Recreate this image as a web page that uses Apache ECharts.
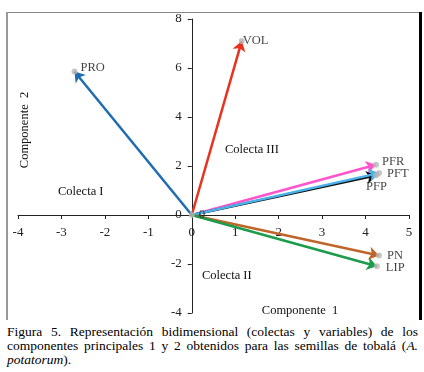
<!DOCTYPE html>
<html>
<head>
<meta charset="utf-8">
<script src="https://cdn.jsdelivr.net/npm/echarts@6/dist/echarts.min.js"></script>
<style>
  html, body { margin: 0; padding: 0; background: #fff; }
  #chart { width: 424px; height: 320px; }
  #caption {
    width: 411px; margin-left: 7px; margin-top: 5px;
    font-family: 'Liberation Serif', 'DejaVu Serif', serif;
    font-size: 13.5px; line-height: 14px; color: #000;
    text-align: justify;
  }
</style>
</head>
<body>
<div id="chart"></div>
<div id="caption">Figura 5. Representación bidimensional (colectas y variables) de los componentes principales 1 y 2 obtenidos para las semillas de tobalá (<i>A. potatorum</i>).</div>
<script>
// variables (loadings on components 1 and 2)
const varNames = ['PRO', 'VOL', 'PFR', 'PFP', 'PFT', 'PN', 'LIP']
const comp1 = [-2.70, 1.15, 4.24, 4.25, 4.31, 4.31, 4.26]
const comp2 = [5.86, 7.10, 2.05, 1.62, 1.71, -1.65, -2.09]
const varColors = ['#1f6db0', '#e8321e', '#ff55cc', '#111111', '#4ab2ea', '#c0652a', '#1a9c4a']

// label placement per variable
const labelPos = {
    PRO: { position: 'right', offset: [0, -4] },
    VOL: { position: 'right', offset: [-5, 0] },
    PFR: { position: 'right', offset: [0, -3] },
    PFP: { position: 'bottom', offset: [0, -1] },
    PFT: { position: 'right', offset: [2, 1] },
    PN: { position: 'right', offset: [2, 0] },
    LIP: { position: 'right', offset: [3, 2] },
}

const xTicks = { min: -4, max: 5, interval: 1 }
const yTicks = { min: -4, max: 8, interval: 2 }

const serif = "'Liberation Serif', 'DejaVu Serif', serif"

const gridBox = { left: 18, right: 15, top: 19, bottom: 7 }
const chartW = 424, chartH = 320

// move axes to cross at zero (labels follow the axis)
const plotW = chartW - gridBox.left - gridBox.right
const plotH = chartH - gridBox.top - gridBox.bottom
const yAxisShift = -plotW * (0 - xTicks.min) / (xTicks.max - xTicks.min)
const xAxisShift = -plotH * (0 - yTicks.min) / (yTicks.max - yTicks.min)

const chart = echarts.init(document.getElementById('chart'))

const arrowData = varNames.map((n, i) => ({
    name: n,
    coords: [[0, 0], [comp1[i], comp2[i]]],
    lineStyle: { color: varColors[i] }
}))

const tipData = varNames.map((n, i) => ({
    name: n,
    value: [comp1[i], comp2[i]],
    label: Object.assign({ show: true, formatter: n }, labelPos[n])
}))

const option = {
    animation: false,
    grid: gridBox,
    xAxis: {
        type: 'value',
        position: 'bottom',
        offset: xAxisShift,
        min: xTicks.min, max: xTicks.max, interval: xTicks.interval,
        splitLine: { show: false },
        axisLine: { onZero: false, lineStyle: { color: '#222', width: 1 } },
        axisTick: { show: true, length: 4, lineStyle: { color: '#222' } },
        axisLabel: { color: '#222', fontFamily: serif, fontSize: 13, margin: 11 }
    },
    yAxis: {
        type: 'value',
        position: 'left',
        offset: yAxisShift,
        min: yTicks.min, max: yTicks.max, interval: yTicks.interval,
        splitLine: { show: false },
        axisLine: { show: true, onZero: false, lineStyle: { color: '#222', width: 1 } },
        axisTick: { show: true, length: 4, lineStyle: { color: '#222' } },
        axisLabel: { color: '#222', fontFamily: serif, fontSize: 13, margin: 10 }
    },
    series: [
        {
            type: 'lines',
            coordinateSystem: 'cartesian2d',
            symbol: ['none', 'arrow'],
            symbolSize: 10,
            lineStyle: { width: 2.5, opacity: 1, curveness: 0 },
            data: arrowData,
            z: 3
        },
        {
            type: 'scatter',
            symbolSize: 6,
            itemStyle: { color: '#b8b8b8' },
            label: { color: '#111', fontFamily: serif, fontSize: 12.5, distance: 3 },
            data: tipData,
            z: 4
        },
        {
            // origin point
            type: 'scatter',
            symbolSize: 6,
            itemStyle: { color: '#b8b8b8' },
            label: { show: true, position: 'right', formatter: '0', color: '#222', fontFamily: serif, fontSize: 13, distance: 4 },
            data: [[0, 0]],
            z: 4
        }
    ],
    graphic: [
        // frame
        { type: 'line', shape: { x1: 7, y1: 12.5, x2: 420, y2: 12.5 }, style: { stroke: '#888', lineWidth: 1 } },
        { type: 'line', shape: { x1: 7, y1: 12, x2: 7, y2: 320 }, style: { stroke: '#999', lineWidth: 2 } },
        { type: 'line', shape: { x1: 420.5, y1: 12, x2: 420.5, y2: 320 }, style: { stroke: '#000', lineWidth: 3 } },
        // axis titles
        {
            type: 'text', x: 25, y: 130, rotation: Math.PI / 2,
            style: { text: 'Componente  2', font: '12.5px ' + serif, fill: '#111', align: 'center', verticalAlign: 'middle' }
        },
        {
            type: 'text', x: 300, y: 311,
            style: { text: 'Componente  1', font: '12.5px ' + serif, fill: '#111', align: 'center', verticalAlign: 'middle' }
        },
        // groups
        { type: 'text', x: 58, y: 192, style: { text: 'Colecta I', font: '12.5px ' + serif, fill: '#111', verticalAlign: 'middle' } },
        { type: 'text', x: 202, y: 276, style: { text: 'Colecta II', font: '12.5px ' + serif, fill: '#111', verticalAlign: 'middle' } },
        { type: 'text', x: 225, y: 150, style: { text: 'Colecta III', font: '12.5px ' + serif, fill: '#111', verticalAlign: 'middle' } }
    ]
}

chart.setOption(option)
</script>
</body>
</html>
